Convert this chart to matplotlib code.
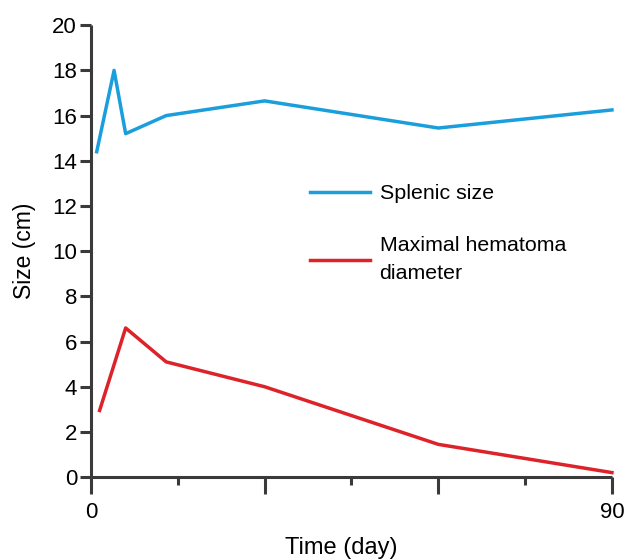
import matplotlib.pyplot as plt
from matplotlib.ticker import MultipleLocator

plt.rcParams['font.family'] = ['Liberation Sans', 'DejaVu Sans']

# values
splenic_day = [1, 4, 6, 13, 30, 60, 90]
splenic_size = [14.4, 18.0, 15.2, 16.0, 16.65, 15.45, 16.25]

hematoma_day = [1.5, 6, 13, 30, 60, 90]
hematoma_size = [2.95, 6.6, 5.1, 4.0, 1.45, 0.2]

blue = '#1a9fdc'
red = '#dd2229'
axis_col = '#3a3a3a'

fig = plt.figure(figsize=(6.27, 5.6), dpi=100)
ax = fig.add_axes([0.145, 0.148, 0.831, 0.807])

ax.plot(splenic_day, splenic_size, color=blue, lw=2.5, label='Splenic size', clip_on=False)
ax.plot(hematoma_day, hematoma_size, color=red, lw=2.5, label='Maximal hematoma\ndiameter', clip_on=False)

ax.set_xlim(0, 90)
ax.set_ylim(0, 20)
ax.set_yticks(range(0, 21, 2))
ax.set_xticks([0, 30, 60, 90])
ax.set_xticklabels(['0', '', '', '90'])
ax.xaxis.set_minor_locator(MultipleLocator(15))

for s in ['top', 'right']:
    ax.spines[s].set_visible(False)
for s in ['left', 'bottom']:
    ax.spines[s].set_linewidth(2.2)
    ax.spines[s].set_color(axis_col)
    ax.spines[s].set_capstyle('butt')

ax.tick_params(axis='x', which='major', length=12, width=2.2, color=axis_col, labelsize=16, pad=6)
ax.tick_params(axis='x', which='minor', length=6, width=2.2, color=axis_col)
ax.tick_params(axis='y', which='major', length=8, width=2.2, color=axis_col, labelsize=16, pad=2)

ax.set_xlabel('Time (day)', fontsize=17)
ax.set_ylabel('Size (cm)', fontsize=16.5)
ax.xaxis.set_label_coords(0.48, -0.133)
ax.yaxis.set_label_coords(-0.105, 0.5)

leg = ax.legend(loc='upper left', bbox_to_anchor=(0.4, 0.672), frameon=False, fontsize=15.4,
                handlelength=2.8, handletextpad=0.45, labelspacing=1.56, borderpad=0)
for t in leg.get_texts():
    t.set_linespacing(1.55)

fig.savefig('out.png', dpi=100)
